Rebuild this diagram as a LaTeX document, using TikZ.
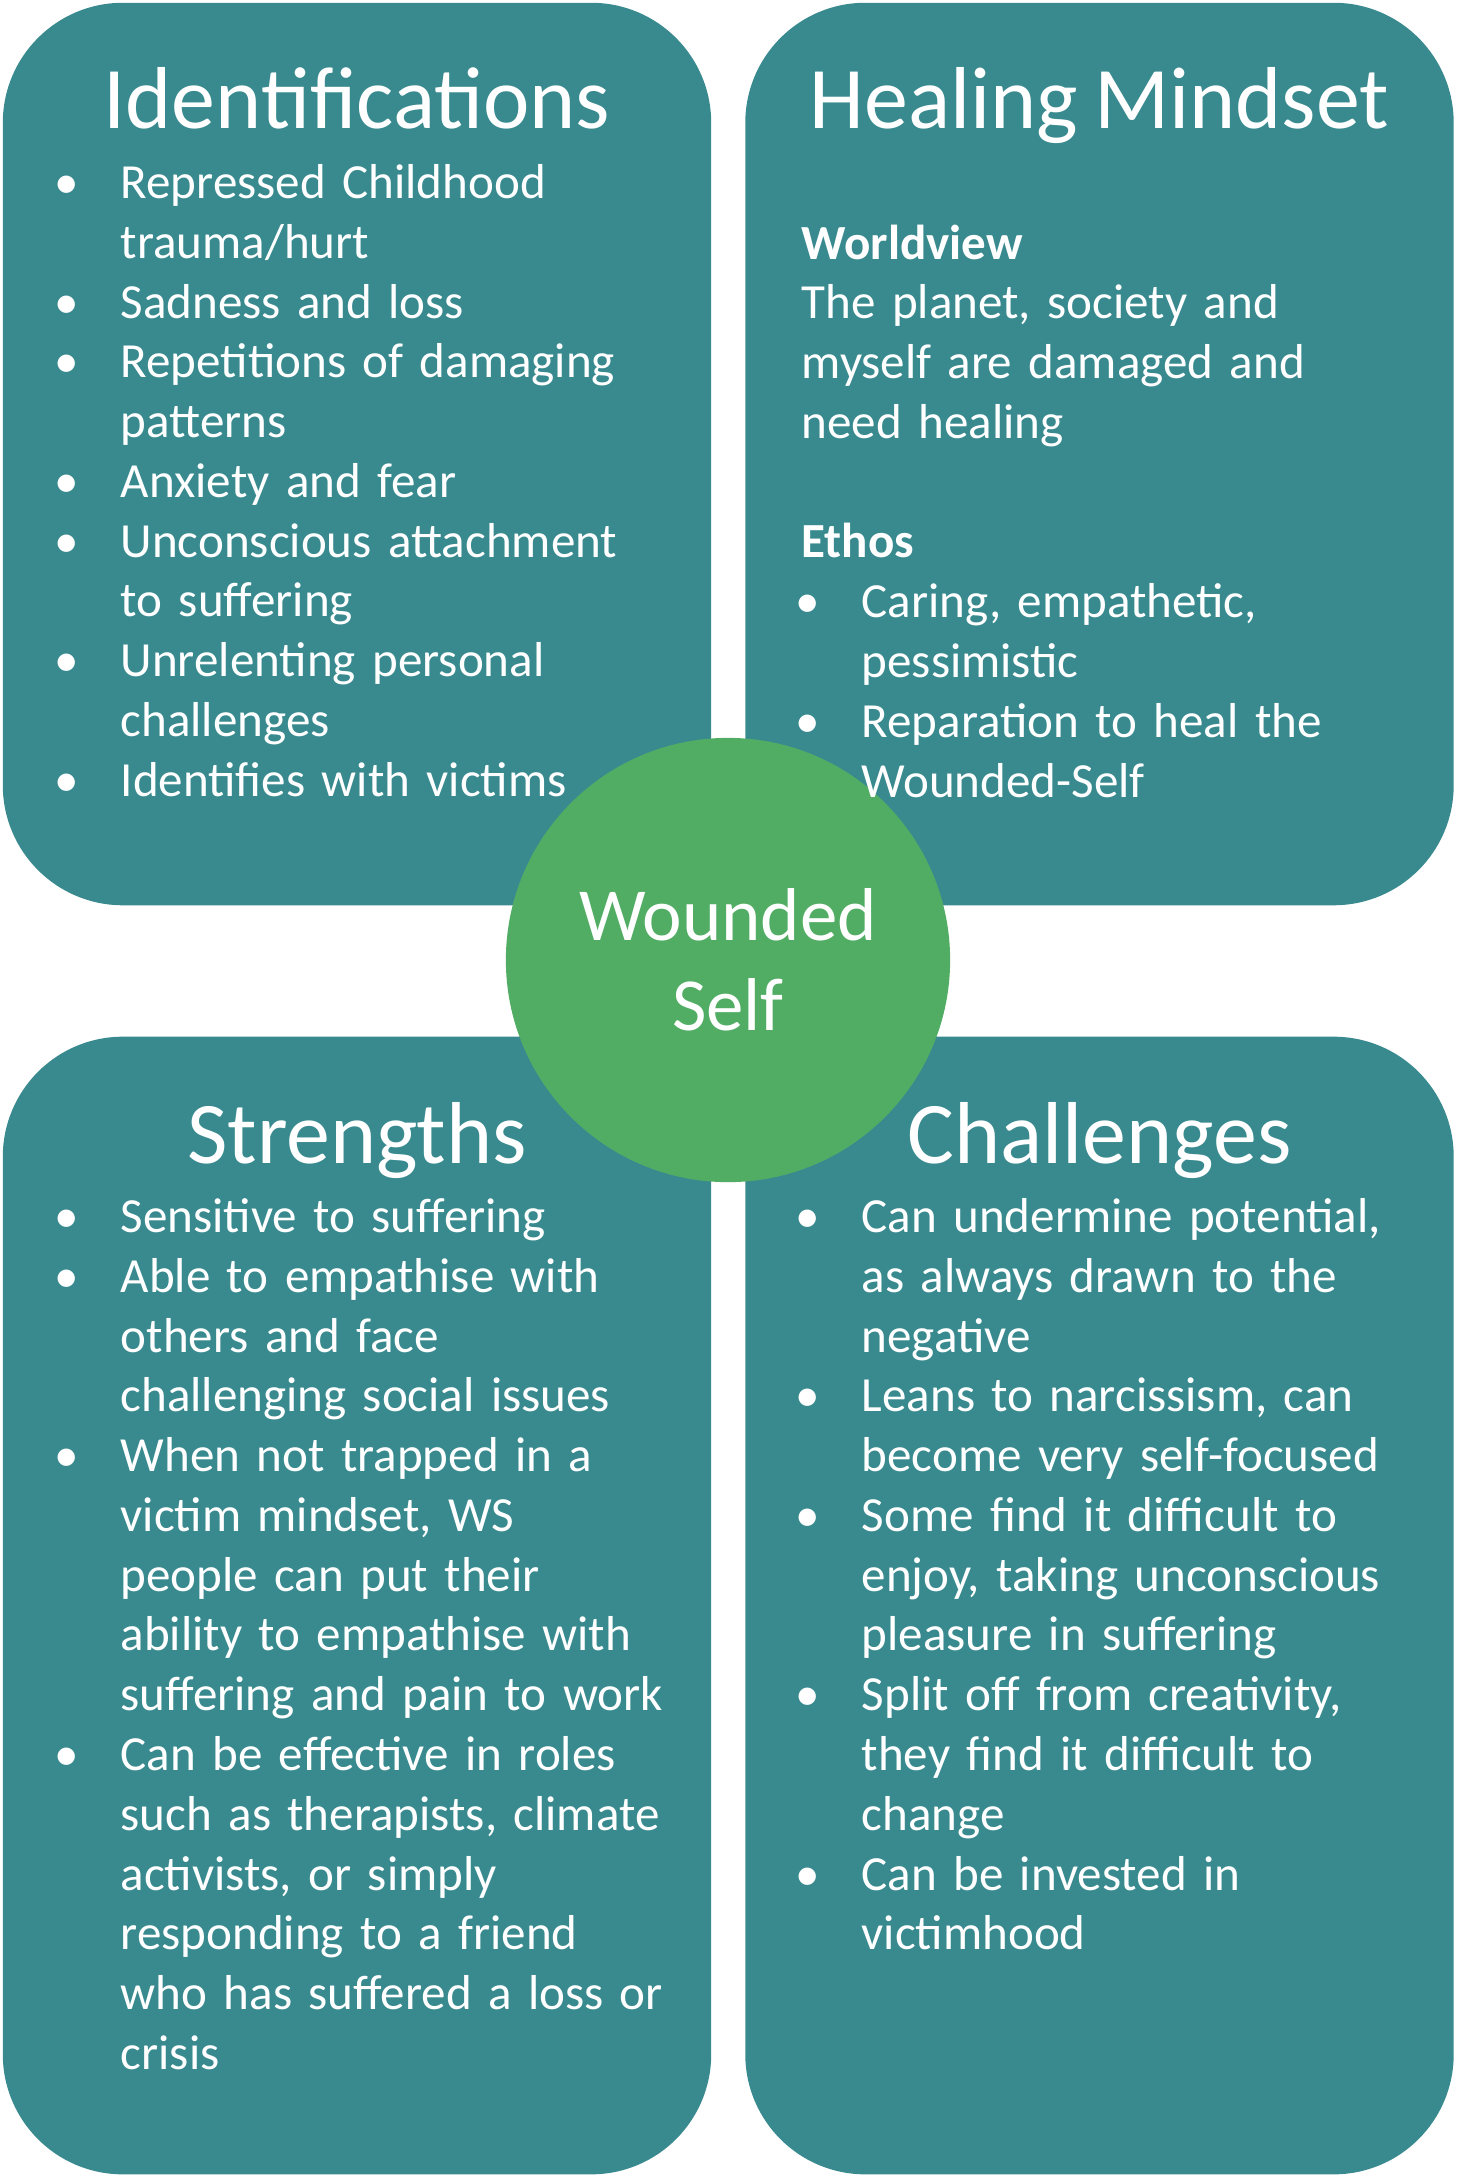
\documentclass[tikz,border=0pt]{standalone}
\usepackage{fontspec}
\setmainfont{Carlito}[WordSpace=0.8]

\definecolor{quadteal}{HTML}{388A8F}
\definecolor{selfgreen}{HTML}{52AD64}

\setlength\parindent{0pt}
\frenchspacing
\newlength\bulind
\setlength\bulind{0.6cm}
\newcommand\itm[1]{\noindent\hangindent=\bulind\hangafter=1\makebox[\bulind][l]{\hspace{-0.06cm}\textbullet}#1\par}

\begin{document}
\begin{tikzpicture}[x=0.01cm, y=-0.01cm,
  quad/.style={fill=quadteal, inner sep=0, minimum width=7.08cm, rounded corners=1.2cm},
  ttl/.style={anchor=base, inner sep=0, text=white, font=\fontsize{25pt}{30pt}\selectfont},
  body/.style={anchor=base west, inner sep=0, text width=6.4cm, text=white, font=\fontsize{13.95pt}{17pt}\selectfont}]

\useasboundingbox (0,0) rectangle (1456,2177);

% Define the four boxes
\node[quad, minimum height=9.02cm] (idbox) at (357,454) {};
\node[quad, minimum height=9.02cm] (healbox) at (1099.5,454) {};
\node[quad, minimum height=11.37cm] (strbox) at (357,1605.5) {};
\node[quad, minimum height=11.37cm] (chalbox) at (1099.5,1605.5) {};

% Centre circle
\node[circle, fill=selfgreen, inner sep=0, minimum size=4.44cm, text=white, align=center,
  font=\fontsize{21.3pt}{25.6pt}\selectfont] (selfcirc) at (728,960) {Wounded\\Self};

% Titles
\node[ttl] (idttl) at (357,128) {Identifications};
\node[ttl] (healttl) at (1099.5,128) {Healing Mindset};
\node[ttl] (strttl) at (357,1163) {Strengths};
\node[ttl] (chalttl) at (1099.5,1163) {Challenges};

% Identifications list
\node[body] (idtxt) at (60,198.5) {%
\itm{Repressed Childhood\newline trauma/hurt}
\itm{Sadness and loss}
\itm{Repetitions of damaging\newline patterns}
\itm{Anxiety and fear}
\itm{Unconscious attachment\newline to suffering}
\itm{Unrelenting personal\newline challenges}
\itm{Identifies with victims}};

% Healing mindset text
\node[body] (healtxt) at (801,259) {%
\textbf{Worldview}\par
The planet, society and\newline myself are damaged and\newline need healing\par
\mbox{}\par
\textbf{Ethos}\par
\itm{Caring, empathetic,\newline pessimistic}
\itm{Reparation to heal the\newline Wounded-Self}};

% Strengths list
\node[body] (strtxt) at (60,1232.5) {%
\itm{Sensitive to suffering}
\itm{Able to empathise with\newline others and face\newline challenging social issues}
\itm{When not trapped in a\newline victim mindset, WS\newline people can put their\newline ability to empathise with\newline suffering and pain to work}
\itm{Can be effective in roles\newline such as therapists, climate\newline activists, or simply\newline responding to a friend\newline who has suffered a loss or\newline crisis}};

% Challenges list
\node[body] (chaltxt) at (801,1232.5) {%
\itm{Can undermine potential,\newline as always drawn to the\newline negative}
\itm{Leans to narcissism, can\newline become very self-focused}
\itm{Some find it difficult to\newline enjoy, taking unconscious\newline pleasure in suffering}
\itm{Split off from creativity,\newline they find it difficult to\newline change}
\itm{Can be invested in\newline victimhood}};

\end{tikzpicture}
\end{document}
